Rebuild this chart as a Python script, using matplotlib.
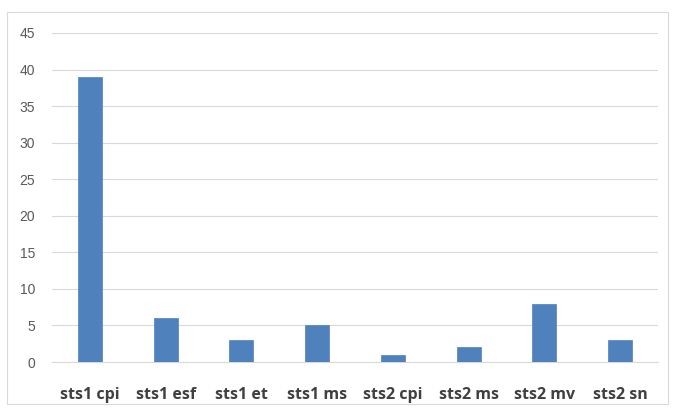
import matplotlib
matplotlib.use("Agg")
import matplotlib.pyplot as plt
from matplotlib.patches import Rectangle

categories = ["sts1 cpi", "sts1 esf", "sts1 et", "sts1 ms", "sts2 cpi", "sts2 ms", "sts2 mv", "sts2 sn"]
values = [39, 6, 3, 5, 1, 2, 8, 3]
yticks = [0, 5, 10, 15, 20, 25, 30, 35, 40, 45]

W, H = 675, 408
fig = plt.figure(figsize=(W/100, H/100), dpi=100)
fig.patch.set_facecolor("white")
fig.patches.append(Rectangle((7/W, 1 - 404/H), (668-7)/W, (404-12)/H,
                             transform=fig.transFigure, fill=False,
                             edgecolor="#D9D9D9", linewidth=0.8))

left, right, top, bottom = 52, 658, 33, 362
ax = fig.add_axes([left/W, 1 - bottom/H, (right-left)/W, (bottom-top)/H])
x = list(range(len(categories)))
ax.bar(x, values, width=0.32, color="#4F81BD", edgecolor="#4F81BD", linewidth=0.5, zorder=3)
ax.set_xlim(-0.5, len(categories) - 0.5)
ax.set_ylim(0, 45)
ax.set_yticks(yticks)
ax.set_yticklabels([str(t) for t in yticks], color="#595959", fontsize=10, fontfamily="Liberation Sans")
ax.set_xticks(x)
ax.set_xticklabels(categories, fontsize=11.5, fontweight="bold", color="#404040", fontfamily="Open Sans")
ax.tick_params(axis="both", length=0)
ax.tick_params(axis="y", pad=12)
ax.tick_params(axis="x", pad=18)
ax.grid(axis="y", color="#D9D9D9", linewidth=0.8, zorder=0)
for s in ["top", "right", "left"]:
    ax.spines[s].set_visible(False)
ax.spines["bottom"].set_color("#D9D9D9")
ax.spines["bottom"].set_linewidth(0.8)
ax.set_facecolor("none")

fig.savefig("out.png", dpi=100, facecolor="white")
